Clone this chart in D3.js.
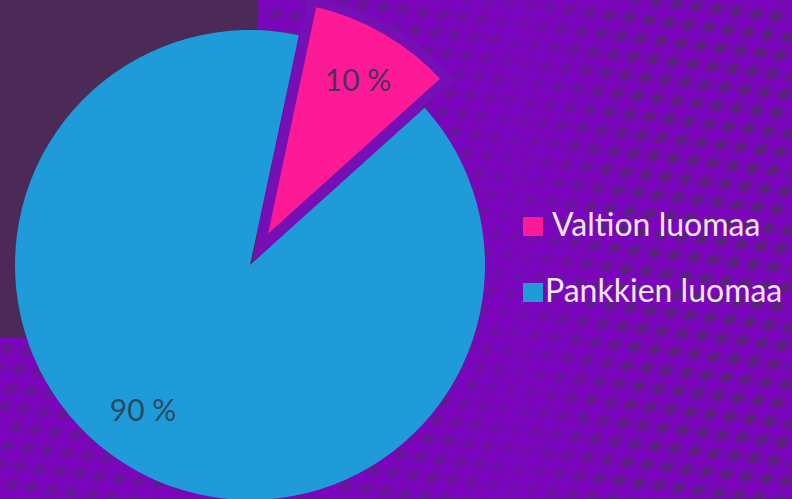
<!DOCTYPE html>
<html>
<head>
<meta charset="utf-8">
<script src="https://cdn.jsdelivr.net/npm/d3@7"></script>
<style>
html,body{margin:0;padding:0;background:#7c06be;}
svg{display:block;}
</style>
</head>
<body>
<svg id="chart" width="792" height="499"></svg>
<script>
const categories = ["Valtion luomaa", "Pankkien luomaa"];
const values = [10, 90];
const labels = ["10 %", "90 %"];
const colors = ["#fd1a97", "#1e9bd8"];

const W = 792, H = 499;
const svg = d3.select("#chart");
const defs = svg.append("defs");

// background
svg.append("rect").attr("width", W).attr("height", H).attr("fill", "#7c06be");
const pat = defs.append("pattern").attr("id", "dots")
  .attr("patternUnits", "userSpaceOnUse").attr("width", 32).attr("height", 24)
  .attr("patternTransform", "rotate(-30)");
pat.append("ellipse").attr("cx", 8).attr("cy", 6).attr("rx", 7).attr("ry", 4).attr("fill", "#463058");
pat.append("ellipse").attr("cx", 24).attr("cy", 18).attr("rx", 7).attr("ry", 4).attr("fill", "#463058");
const blur = defs.append("filter").attr("id", "soft");
blur.append("feGaussianBlur").attr("stdDeviation", 2);
const grad = defs.append("linearGradient").attr("id", "fade").attr("x1", 0).attr("x2", 1);
grad.append("stop").attr("offset", 0.55).attr("stop-color", "#fff").attr("stop-opacity", 0.5);
grad.append("stop").attr("offset", 0.66).attr("stop-color", "#fff").attr("stop-opacity", 0.2);
grad.append("stop").attr("offset", 0.8).attr("stop-color", "#fff").attr("stop-opacity", 0.8);
grad.append("stop").attr("offset", 1).attr("stop-color", "#fff").attr("stop-opacity", 0.9);
const mask = defs.append("mask").attr("id", "m");
mask.append("rect").attr("width", W).attr("height", H).attr("fill", "url(#fade)");
svg.append("rect").attr("width", W).attr("height", H).attr("fill", "url(#dots)")
  .attr("filter", "url(#soft)").attr("mask", "url(#m)");
svg.append("rect").attr("x", 0).attr("y", 0).attr("width", 257).attr("height", 338)
  .attr("fill", "#4b2a58");

// pie
const cx = 250, cy = 265, R = 235, Rpink = 252;
const start = 12 * Math.PI / 180;
const pie = d3.pie().sort(null).startAngle(start).endAngle(start + 2 * Math.PI);
const arcs = pie(values);
const g = svg.append("g").attr("transform", `translate(${cx},${cy})`);

const blueArc = d3.arc().innerRadius(0).outerRadius(R);
const pinkArc = d3.arc().innerRadius(0).outerRadius(Rpink);
const explode = 20;

g.append("path").datum(arcs[1]).attr("d", blueArc).attr("fill", colors[1]);

const mid0 = (arcs[0].startAngle + arcs[0].endAngle) / 2;
const ox = Math.sin(mid0) * explode, oy = -Math.cos(mid0) * explode;
g.append("path").datum(arcs[0]).attr("d", pinkArc)
  .attr("transform", `translate(${ox},${oy})`)
  .attr("fill", colors[0]).attr("stroke", "#7710b4").attr("stroke-width", 10)
  .attr("stroke-linejoin", "miter").attr("stroke-miterlimit", 10);

// labels
g.append("text").text(labels[0])
  .attr("x", 358 - cx).attr("y", 91 - cy)
  .attr("text-anchor", "middle").attr("font-family", "Lato, 'Open Sans', sans-serif")
  .attr("font-size", 30).attr("fill", "#4a3158");
g.append("text").text(labels[1])
  .attr("x", 143 - cx).attr("y", 421 - cy)
  .attr("text-anchor", "middle").attr("font-family", "Lato, 'Open Sans', sans-serif")
  .attr("font-size", 30).attr("fill", "#2a4a63");

// legend
const leg = svg.append("g").attr("transform", "translate(523,217)");
categories.forEach((c, i) => {
  const row = leg.append("g").attr("transform", `translate(0,${i * 66})`);
  row.append("rect").attr("width", 20).attr("height", 19).attr("fill", colors[i]);
  row.append("text").text(c).attr("x", i === 0 ? 29 : 22).attr("y", 19)
    .attr("font-family", "Lato, 'Open Sans', sans-serif").attr("font-size", 32)
    .attr("fill", "#f4e6f8");
});
</script>
</body>
</html>
